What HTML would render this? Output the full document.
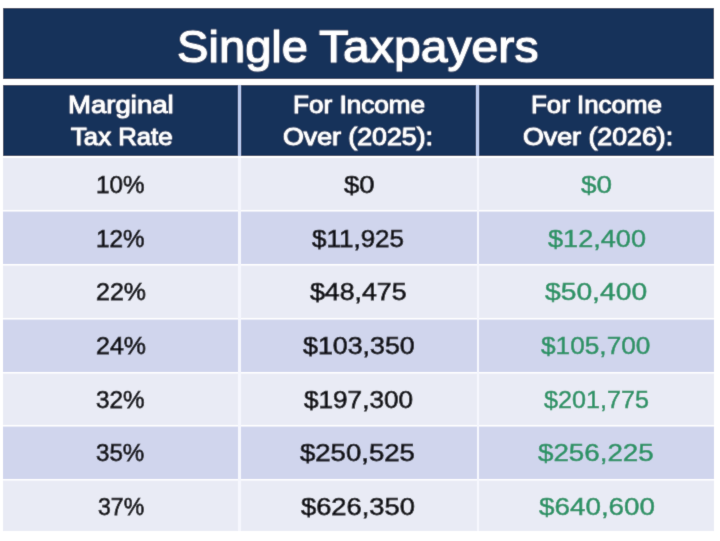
<!DOCTYPE html>
<html>
<head>
<meta charset="utf-8">
<title>Single Taxpayers</title>
<style>
html,body{margin:0;padding:0;background:#ffffff;}
body{width:720px;height:541px;position:relative;overflow:hidden;font-family:"Liberation Sans",sans-serif;}
.bx{position:absolute;}
.tx{position:absolute;white-space:nowrap;transform-origin:0 0;}
</style>
</head>
<body>
<svg width="0" height="0" style="position:absolute"><filter id="sb" x="0" y="0" width="100%" height="100%"><feConvolveMatrix order="3" kernelMatrix="0.01134 0.08382 0.01134 0.08382 0.61935 0.08382 0.01134 0.08382 0.01134" edgeMode="duplicate" preserveAlpha="true"/></filter></svg>
<div id="wrap" style="position:absolute;left:0;top:0;width:720px;height:541px;background:#fff;filter:url(#sb)">
<div class="bx" style="left:3px;top:8px;width:711px;height:71px;background:#15305a"></div>
<div class="bx" style="left:3px;top:85px;width:711px;height:71px;background:#15305a"></div>
<div class="bx" style="left:238px;top:85px;width:3px;height:71px;background:#bacaee"></div>
<div class="bx" style="left:476px;top:85px;width:3px;height:71px;background:#bacaee"></div>
<div class="bx" style="left:3px;top:158px;width:711px;height:52px;background:#e9ebf5"></div>
<div class="bx" style="left:3px;top:211px;width:711px;height:53px;background:#d0d5ed"></div>
<div class="bx" style="left:3px;top:265px;width:711px;height:53px;background:#e9ebf5"></div>
<div class="bx" style="left:3px;top:319px;width:711px;height:53px;background:#d0d5ed"></div>
<div class="bx" style="left:3px;top:373px;width:711px;height:52px;background:#e9ebf5"></div>
<div class="bx" style="left:3px;top:426px;width:711px;height:53px;background:#d0d5ed"></div>
<div class="bx" style="left:3px;top:480px;width:711px;height:51px;background:#e9ebf5"></div>
<div class="bx" style="left:3px;top:210px;width:711px;height:1px;background:#fff"></div>
<div class="bx" style="left:3px;top:211px;width:711px;height:1px;background:rgba(255,255,255,0.55)"></div>
<div class="bx" style="left:3px;top:264px;width:711px;height:1px;background:#fff"></div>
<div class="bx" style="left:3px;top:265px;width:711px;height:1px;background:rgba(255,255,255,0.55)"></div>
<div class="bx" style="left:3px;top:318px;width:711px;height:1px;background:#fff"></div>
<div class="bx" style="left:3px;top:319px;width:711px;height:1px;background:rgba(255,255,255,0.55)"></div>
<div class="bx" style="left:3px;top:372px;width:711px;height:1px;background:#fff"></div>
<div class="bx" style="left:3px;top:373px;width:711px;height:1px;background:rgba(255,255,255,0.55)"></div>
<div class="bx" style="left:3px;top:425px;width:711px;height:1px;background:#fff"></div>
<div class="bx" style="left:3px;top:426px;width:711px;height:1px;background:rgba(255,255,255,0.55)"></div>
<div class="bx" style="left:3px;top:479px;width:711px;height:1px;background:#fff"></div>
<div class="bx" style="left:3px;top:480px;width:711px;height:1px;background:rgba(255,255,255,0.55)"></div>
<div class="bx" style="left:238px;top:158px;width:3px;height:373px;background:#f6f7fe"></div>
<div class="bx" style="left:477px;top:158px;width:2px;height:373px;background:#f6f7fe"></div>
<div class="tx" style="left:177.20px;top:23.91px;font-size:45px;line-height:45px;color:#fff;-webkit-text-stroke:1.0px #fff;transform:scaleX(1.0475)">Single</div>
<div class="tx" style="left:319.20px;top:23.91px;font-size:45px;line-height:45px;color:#fff;-webkit-text-stroke:1.0px #fff;transform:scaleX(1.0701)">Taxpayers</div>
<div class="tx" style="left:68.03px;top:94.11px;font-size:23.5px;line-height:23.5px;color:#fff;-webkit-text-stroke:0.8px #fff;transform:scaleX(1.1727)">Marginal</div>
<div class="tx" style="left:70.80px;top:126.11px;font-size:23.5px;line-height:23.5px;color:#fff;-webkit-text-stroke:0.8px #fff;transform:scaleX(1.0946)">Tax Rate</div>
<div class="tx" style="left:292.69px;top:94.11px;font-size:23.5px;line-height:23.5px;color:#fff;-webkit-text-stroke:0.8px #fff;transform:scaleX(1.1111)">For Income</div>
<div class="tx" style="left:283.46px;top:126.11px;font-size:23.5px;line-height:23.5px;color:#fff;-webkit-text-stroke:0.8px #fff;transform:scaleX(1.1369)">Over (2025):</div>
<div class="tx" style="left:531.10px;top:94.11px;font-size:23.5px;line-height:23.5px;color:#fff;-webkit-text-stroke:0.8px #fff;transform:scaleX(1.1009)">For Income</div>
<div class="tx" style="left:523.26px;top:126.11px;font-size:23.5px;line-height:23.5px;color:#fff;-webkit-text-stroke:0.8px #fff;transform:scaleX(1.1385)">Over (2026):</div>
<div class="tx" style="left:95.69px;top:172.78px;font-size:24px;line-height:24px;color:#121216;-webkit-text-stroke:0.75px #121216;transform:scaleX(1.0106)">10%</div>
<div class="tx" style="left:343.70px;top:172.78px;font-size:24px;line-height:24px;color:#121216;-webkit-text-stroke:0.75px #121216;transform:scaleX(1.1462)">$0</div>
<div class="tx" style="left:581.10px;top:172.78px;font-size:24px;line-height:24px;color:#2a9366;-webkit-text-stroke:0.5px #2a9366;transform:scaleX(1.1615)">$0</div>
<div class="tx" style="left:95.69px;top:226.78px;font-size:24px;line-height:24px;color:#121216;-webkit-text-stroke:0.75px #121216;transform:scaleX(1.0106)">12%</div>
<div class="tx" style="left:312.20px;top:226.78px;font-size:24px;line-height:24px;color:#121216;-webkit-text-stroke:0.75px #121216;transform:scaleX(1.0824)">$11,925</div>
<div class="tx" style="left:547.60px;top:226.78px;font-size:24px;line-height:24px;color:#2a9366;-webkit-text-stroke:0.5px #2a9366;transform:scaleX(1.1291)">$12,400</div>
<div class="tx" style="left:95.66px;top:280.48px;font-size:24px;line-height:24px;color:#121216;-webkit-text-stroke:0.75px #121216;transform:scaleX(1.0404)">22%</div>
<div class="tx" style="left:310.30px;top:280.48px;font-size:24px;line-height:24px;color:#121216;-webkit-text-stroke:0.75px #121216;transform:scaleX(1.1128)">$48,475</div>
<div class="tx" style="left:545.30px;top:280.48px;font-size:24px;line-height:24px;color:#2a9366;-webkit-text-stroke:0.5px #2a9366;transform:scaleX(1.1767)">$50,400</div>
<div class="tx" style="left:95.66px;top:334.08px;font-size:24px;line-height:24px;color:#121216;-webkit-text-stroke:0.75px #121216;transform:scaleX(1.0404)">24%</div>
<div class="tx" style="left:302.60px;top:334.08px;font-size:24px;line-height:24px;color:#121216;-webkit-text-stroke:0.75px #121216;transform:scaleX(1.1160)">$103,350</div>
<div class="tx" style="left:540.80px;top:334.08px;font-size:24px;line-height:24px;color:#2a9366;-webkit-text-stroke:0.5px #2a9366;transform:scaleX(1.0930)">$105,700</div>
<div class="tx" style="left:96.40px;top:387.78px;font-size:24px;line-height:24px;color:#121216;-webkit-text-stroke:0.75px #121216;transform:scaleX(1.0125)">32%</div>
<div class="tx" style="left:304.40px;top:387.78px;font-size:24px;line-height:24px;color:#121216;-webkit-text-stroke:0.75px #121216;transform:scaleX(1.0890)">$197,300</div>
<div class="tx" style="left:543.50px;top:387.78px;font-size:24px;line-height:24px;color:#2a9366;-webkit-text-stroke:0.5px #2a9366;transform:scaleX(1.0480)">$201,775</div>
<div class="tx" style="left:96.40px;top:441.38px;font-size:24px;line-height:24px;color:#121216;-webkit-text-stroke:0.75px #121216;transform:scaleX(1.0062)">35%</div>
<div class="tx" style="left:300.40px;top:441.38px;font-size:24px;line-height:24px;color:#121216;-webkit-text-stroke:0.75px #121216;transform:scaleX(1.1470)">$250,525</div>
<div class="tx" style="left:538.10px;top:441.38px;font-size:24px;line-height:24px;color:#2a9366;-webkit-text-stroke:0.5px #2a9366;transform:scaleX(1.1560)">$256,225</div>
<div class="tx" style="left:97.80px;top:495.08px;font-size:24px;line-height:24px;color:#121216;-webkit-text-stroke:0.75px #121216;transform:scaleX(0.9604)">37%</div>
<div class="tx" style="left:301.30px;top:495.08px;font-size:24px;line-height:24px;color:#121216;-webkit-text-stroke:0.75px #121216;transform:scaleX(1.1370)">$626,350</div>
<div class="tx" style="left:538.70px;top:495.08px;font-size:24px;line-height:24px;color:#2a9366;-webkit-text-stroke:0.5px #2a9366;transform:scaleX(1.1590)">$640,600</div>
</div>
</body>
</html>
